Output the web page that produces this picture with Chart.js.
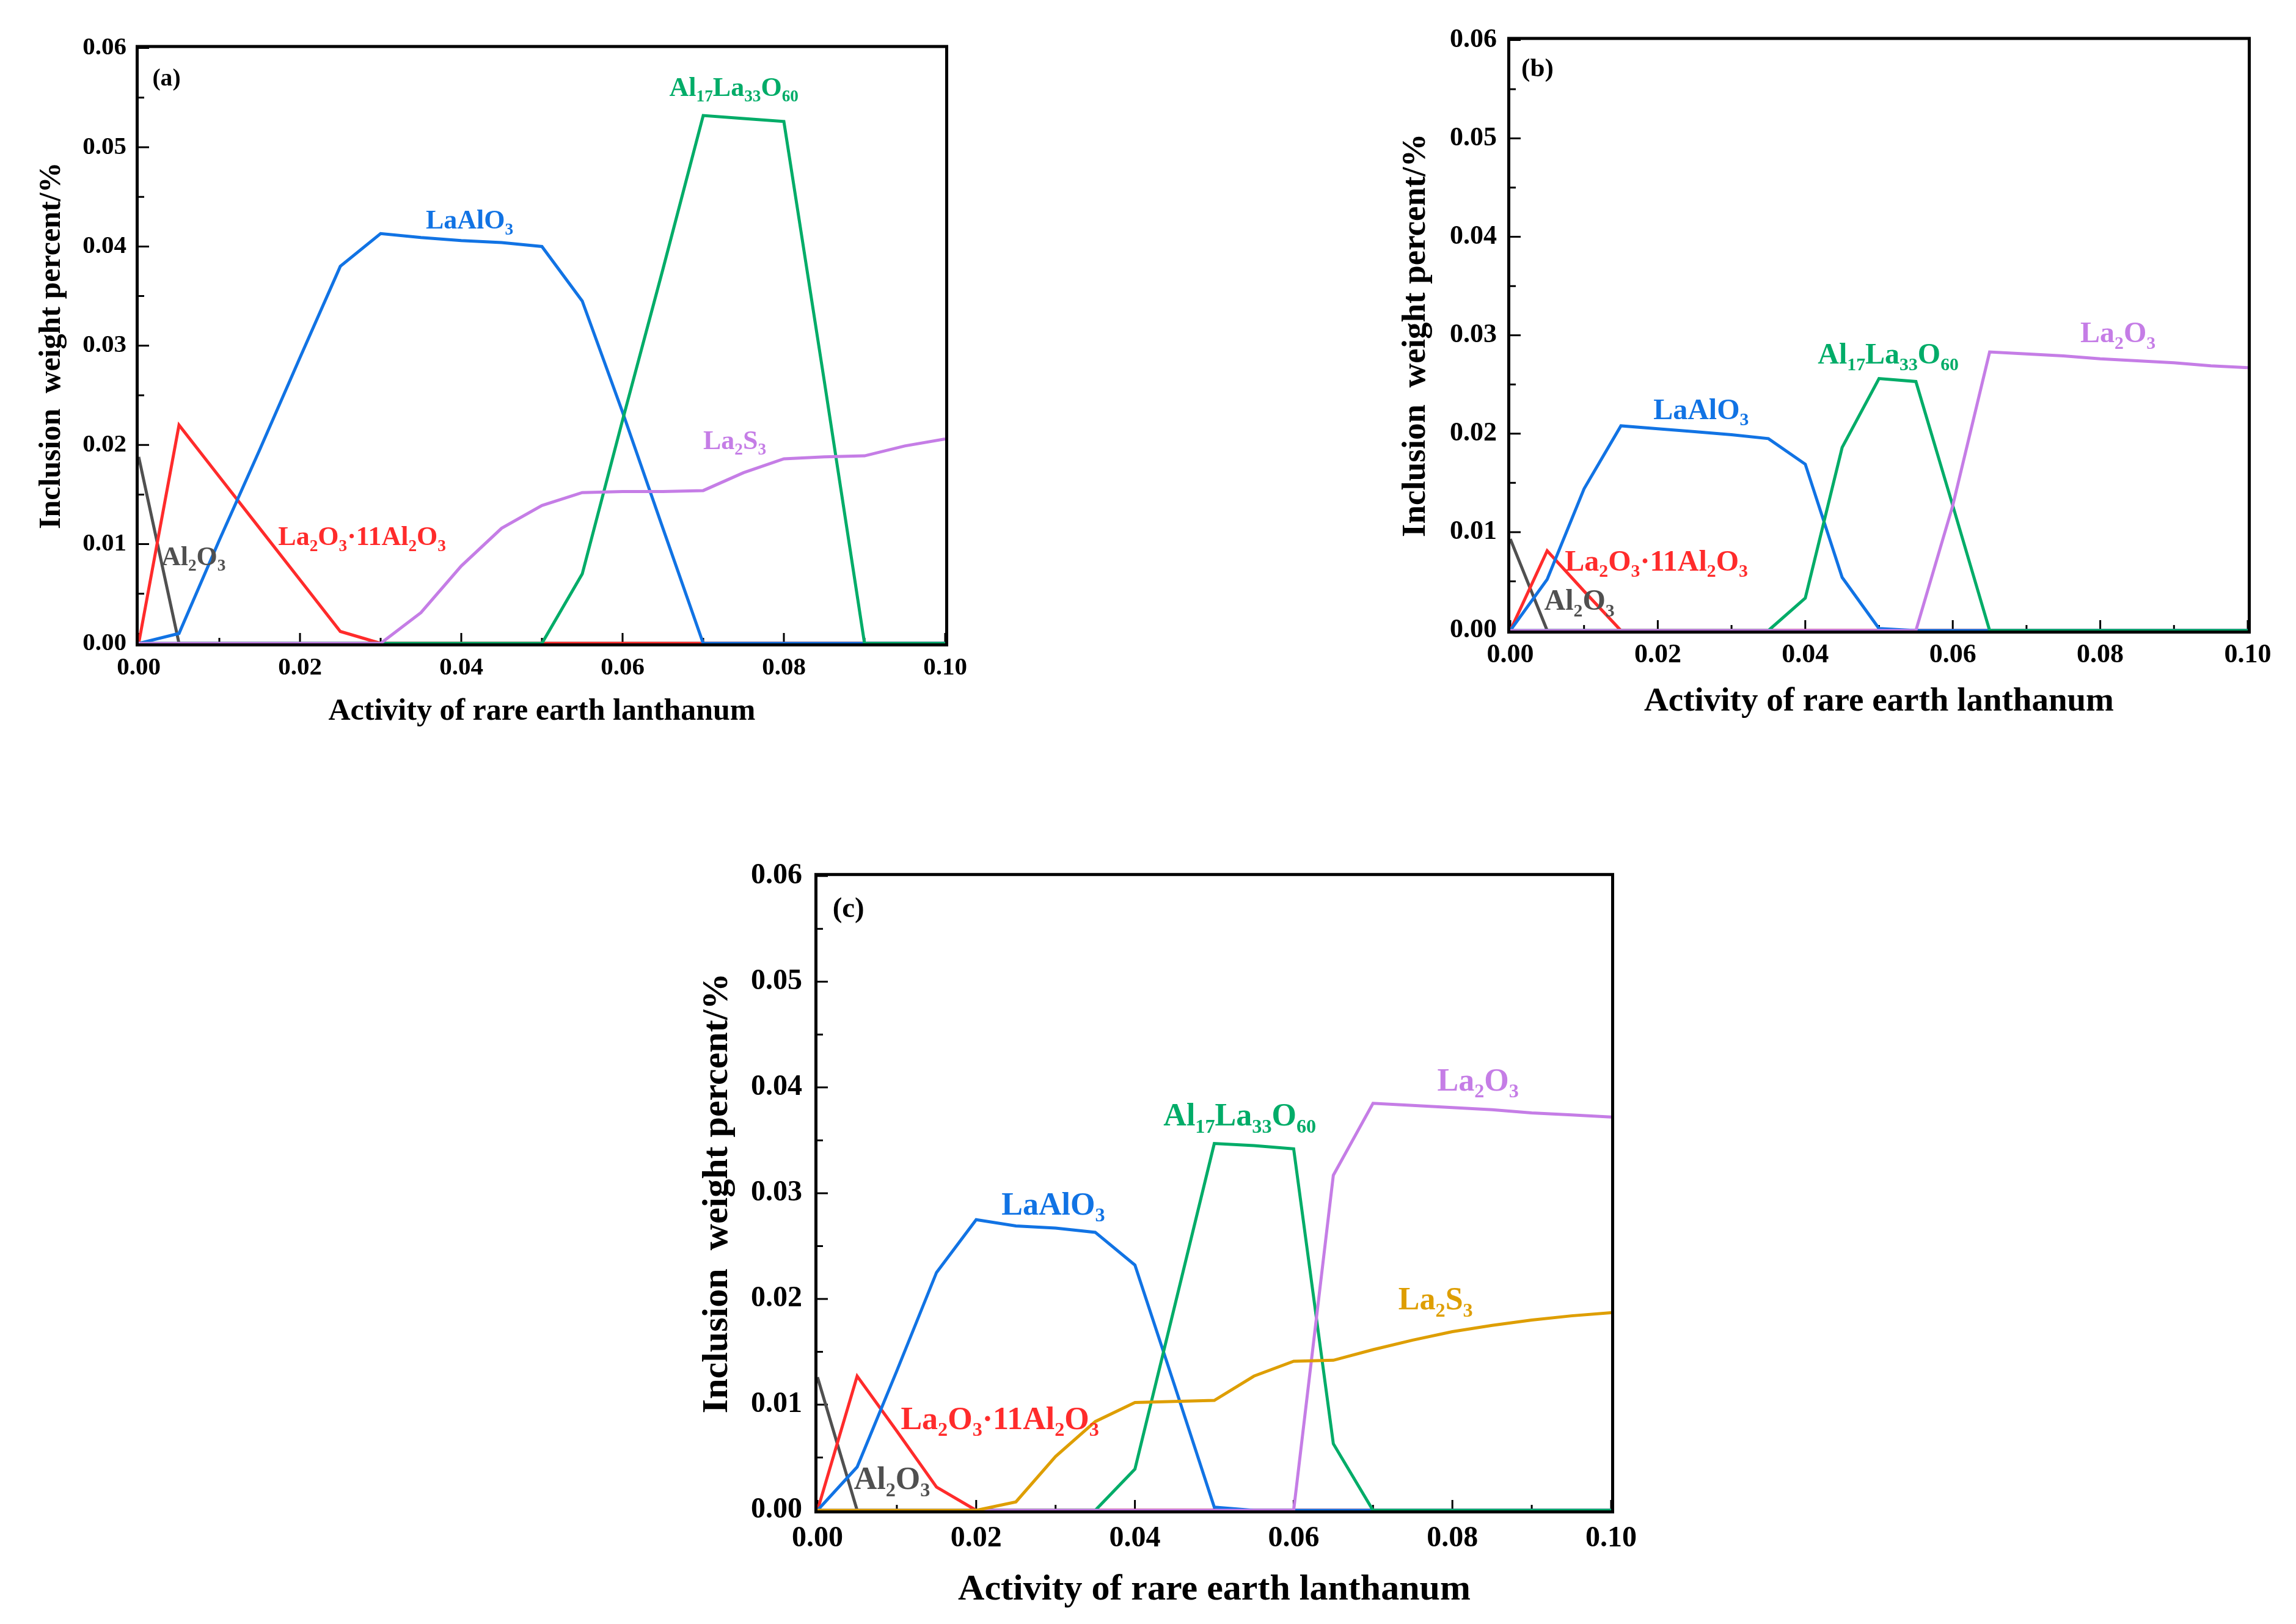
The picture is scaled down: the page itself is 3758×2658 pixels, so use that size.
<!DOCTYPE html>
<html>
<head>
<meta charset="utf-8">
<script src="https://cdn.jsdelivr.net/npm/chart.js@4.4.1/dist/chart.umd.min.js"></script>
<style>
  body { margin: 0; background: #fff; width: 3758px; height: 2658px; position: relative; overflow: hidden; }
  .painel { position: absolute; }
</style>
</head>
<body>
<canvas class="painel" id="graficoA"></canvas>
<canvas class="painel" id="graficoB"></canvas>
<canvas class="painel" id="graficoC"></canvas>

<script>
// ===== DADOS =====
// atividade do lantânio (eixo x), mesma grade nos três painéis
const atividade = [0, 0.005, 0.01, 0.015, 0.02, 0.025, 0.03, 0.035, 0.04, 0.045, 0.05,
                   0.055, 0.06, 0.065, 0.07, 0.075, 0.08, 0.085, 0.09, 0.095, 0.1];

const ticksX = [0, 0.02, 0.04, 0.06, 0.08, 0.1];
const ticksY = [0, 0.01, 0.02, 0.03, 0.04, 0.05, 0.06];

// painel (a)
const a_Al2O3   = [0.0188, 0, 0, 0, 0, 0, 0, 0, 0, 0, 0, 0, 0, 0, 0, 0, 0, 0, 0, 0, 0];
const a_La2O3Al = [0, 0.022, 0.0168, 0.0116, 0.0064, 0.0012, 0, 0, 0, 0, 0, 0, 0, 0, 0, 0, 0, 0, 0, 0, 0];
const a_LaAlO3  = [0, 0.001, 0.0104, 0.0195, 0.0288, 0.038, 0.0413, 0.0409, 0.0406, 0.0404, 0.040,
                   0.0345, 0.0233, 0.0116, 0, 0, 0, 0, 0, 0, 0];
const a_Al17    = [0, 0, 0, 0, 0, 0, 0, 0, 0, 0, 0,
                   0.007, 0.0225, 0.0377, 0.0532, 0.0529, 0.0526, 0.0265, 0, 0, 0];
const a_La2S3   = [0, 0, 0, 0, 0, 0, 0, 0.0031, 0.0078, 0.0116, 0.0139,
                   0.0152, 0.0153, 0.0153, 0.0154, 0.0172, 0.0186, 0.0188, 0.0189, 0.0199, 0.0206];

// painel (b)
const b_Al2O3   = [0.0093, 0, 0, 0, 0, 0, 0, 0, 0, 0, 0, 0, 0, 0, 0, 0, 0, 0, 0, 0, 0];
const b_La2O3Al = [0, 0.0081, 0.004, 0, 0, 0, 0, 0, 0, 0, 0, 0, 0, 0, 0, 0, 0, 0, 0, 0, 0];
const b_LaAlO3  = [0, 0.0052, 0.0144, 0.0208, 0.0205, 0.0202, 0.0199, 0.0195, 0.0169, 0.0054, 0.0002,
                   0, 0, 0, 0, 0, 0, 0, 0, 0, 0];
const b_Al17    = [0, 0, 0, 0, 0, 0, 0, 0, 0.0033, 0.0186, 0.0256,
                   0.0253, 0.0127, 0, 0, 0, 0, 0, 0, 0, 0];
const b_La2O3   = [0, 0, 0, 0, 0, 0, 0, 0, 0, 0, 0,
                   0, 0.0127, 0.0283, 0.0281, 0.0279, 0.0276, 0.0274, 0.0272, 0.0269, 0.0267];

// painel (c)
const c_Al2O3   = [0.0126, 0, 0, 0, 0, 0, 0, 0, 0, 0, 0, 0, 0, 0, 0, 0, 0, 0, 0, 0, 0];
const c_La2O3Al = [0, 0.0127, 0.0075, 0.0022, 0, 0, 0, 0, 0, 0, 0, 0, 0, 0, 0, 0, 0, 0, 0, 0, 0];
const c_LaAlO3  = [0, 0.0041, 0.0132, 0.0225, 0.0275, 0.0269, 0.0267, 0.0263, 0.0232, 0.0118, 0.0003,
                   0, 0, 0, 0, 0, 0, 0, 0, 0, 0];
const c_Al17    = [0, 0, 0, 0, 0, 0, 0, 0, 0.0039, 0.0193, 0.0347,
                   0.0345, 0.0342, 0.0063, 0, 0, 0, 0, 0, 0, 0];
const c_La2O3   = [0, 0, 0, 0, 0, 0, 0, 0, 0, 0, 0,
                   0, 0, 0.0317, 0.0385, 0.0383, 0.0381, 0.0379, 0.0376, 0.0374, 0.0372];
const c_La2S3   = [0, 0, 0, 0, 0, 0.0008, 0.0051, 0.0084, 0.0102, 0.0103, 0.0104,
                   0.0127, 0.0141, 0.0142, 0.0152, 0.0161, 0.0169, 0.0175, 0.018, 0.0184, 0.0187];


// ===== ESTILO =====
const FONTE = "'Liberation Serif', 'Times New Roman', serif";

const cores = {
  Al2O3:  '#505050',
  La2O3Al:'#FF2B2B',
  LaAlO3: '#1173E4',
  Al17:   '#00AC68',
  La2O3:  '#C57DE6',
  La2S3a: '#C57DE6',
  La2S3c: '#DE9E00'
};

// ordem de desenho: menor = por cima
const ordem = { Al2O3: 6, La2O3Al: 5, LaAlO3: 4, Al17: 3, La2O3: 2, La2S3: 1 };


// ===== PAINÉIS =====
const paineis = [
  {
    id: 'graficoA',
    area: { l: 227, t: 74, w: 1320, h: 979 },
    yw: 172, xh: 142, padX: 16, padY: 20,
    fTick: 41, fTitulo: 50, fRotulo: 44,
    letra: { txt: '(a)', x: 0.0017, y: 0.0562 },
    series: [
      { nome: 'Al2O3',   cor: cores.Al2O3,   ordem: ordem.Al2O3,   y: a_Al2O3 },
      { nome: 'La2O3Al', cor: cores.La2O3Al, ordem: ordem.La2O3Al, y: a_La2O3Al },
      { nome: 'LaAlO3',  cor: cores.LaAlO3,  ordem: ordem.LaAlO3,  y: a_LaAlO3 },
      { nome: 'Al17',    cor: cores.Al17,    ordem: ordem.Al17,    y: a_Al17 },
      { nome: 'La2S3',   cor: cores.La2S3a,  ordem: ordem.La2S3,   y: a_La2S3 }
    ],
    rotulos: [
      { txt: 'LaAlO_3',              cor: cores.LaAlO3,  x: 0.0356, y: 0.0418 },
      { txt: 'Al_17La_33O_60',       cor: cores.Al17,    x: 0.0658, y: 0.0552 },
      { txt: 'La_2S_3',              cor: cores.La2S3a,  x: 0.0700, y: 0.0196 },
      { txt: 'La_2O_3·11Al_2O_3',    cor: cores.La2O3Al, x: 0.0173, y: 0.0099 },
      { txt: 'Al_2O_3',              cor: cores.Al2O3,   x: 0.0028, y: 0.0079 }
    ]
  },
  {
    id: 'graficoB',
    area: { l: 2472, t: 57, w: 1207, h: 975 },
    yw: 187, xh: 150, padX: 14, padY: 22,
    fTick: 44, fTitulo: 55, fRotulo: 48,
    letra: { txt: '(b)', x: 0.0015, y: 0.0563 },
    series: [
      { nome: 'Al2O3',   cor: cores.Al2O3,   ordem: ordem.Al2O3,   y: b_Al2O3 },
      { nome: 'La2O3Al', cor: cores.La2O3Al, ordem: ordem.La2O3Al, y: b_La2O3Al },
      { nome: 'LaAlO3',  cor: cores.LaAlO3,  ordem: ordem.LaAlO3,  y: b_LaAlO3 },
      { nome: 'Al17',    cor: cores.Al17,    ordem: ordem.Al17,    y: b_Al17 },
      { nome: 'La2O3',   cor: cores.La2O3,   ordem: ordem.La2O3,   y: b_La2O3 }
    ],
    rotulos: [
      { txt: 'LaAlO_3',              cor: cores.LaAlO3,  x: 0.0194, y: 0.0215 },
      { txt: 'Al_17La_33O_60',       cor: cores.Al17,    x: 0.0417, y: 0.0271 },
      { txt: 'La_2O_3',              cor: cores.La2O3,   x: 0.0773, y: 0.0293 },
      { txt: 'La_2O_3·11Al_2O_3',    cor: cores.La2O3Al, x: 0.0074, y: 0.0061 },
      { txt: 'Al_2O_3',              cor: cores.Al2O3,   x: 0.0046, y: 0.0021 }
    ]
  },
  {
    id: 'graficoC',
    area: { l: 1338, t: 1420, w: 1299, h: 1052 },
    yw: 200, xh: 166, padX: 18, padY: 25,
    fTick: 48, fTitulo: 60, fRotulo: 52,
    letra: { txt: '(c)', x: 0.0019, y: 0.0561 },
    series: [
      { nome: 'Al2O3',   cor: cores.Al2O3,   ordem: ordem.Al2O3,   y: c_Al2O3 },
      { nome: 'La2O3Al', cor: cores.La2O3Al, ordem: ordem.La2O3Al, y: c_La2O3Al },
      { nome: 'LaAlO3',  cor: cores.LaAlO3,  ordem: ordem.LaAlO3,  y: c_LaAlO3 },
      { nome: 'Al17',    cor: cores.Al17,    ordem: ordem.Al17,    y: c_Al17 },
      { nome: 'La2O3',   cor: cores.La2O3,   ordem: ordem.La2O3,   y: c_La2O3 },
      { nome: 'La2S3',   cor: cores.La2S3c,  ordem: ordem.La2S3,   y: c_La2S3 }
    ],
    rotulos: [
      { txt: 'LaAlO_3',              cor: cores.LaAlO3,  x: 0.0232, y: 0.0280 },
      { txt: 'Al_17La_33O_60',       cor: cores.Al17,    x: 0.0436, y: 0.0364 },
      { txt: 'La_2O_3',              cor: cores.La2O3,   x: 0.0781, y: 0.0397 },
      { txt: 'La_2S_3',              cor: cores.La2S3c,  x: 0.0732, y: 0.0190 },
      { txt: 'La_2O_3·11Al_2O_3',    cor: cores.La2O3Al, x: 0.0105, y: 0.0077 },
      { txt: 'Al_2O_3',              cor: cores.Al2O3,   x: 0.0046, y: 0.0020 }
    ]
  }
];


// ===== TEXTO COM SUBSCRITO =====
function desenharRico(ctx, txt, x, y, tam, cor) {
  const partes = txt.split(/_(\d+)/);  // ímpares = subscrito
  ctx.save();
  ctx.fillStyle = cor;
  ctx.textBaseline = 'alphabetic';
  ctx.textAlign = 'left';
  let cx = x;
  partes.forEach((p, i) => {
    if (!p) return;
    const sub = i % 2 === 1;
    const t = sub ? tam * 0.62 : tam;
    ctx.font = `bold ${t}px ${FONTE}`;
    ctx.fillText(p, cx, y + (sub ? tam * 0.22 : 0));
    cx += ctx.measureText(p).width;
  });
  ctx.restore();
}


// ===== PLUGIN: moldura, ticks internos e rótulos =====
const pluginMoldura = {
  id: 'moldura',
  beforeDatasetsDraw(chart) {
    const { ctx, chartArea: a } = chart;
    const lw = 5;
    ctx.save();
    ctx.strokeStyle = '#000';
    ctx.lineWidth = lw;
    ctx.strokeRect(a.left - lw / 2, a.top - lw / 2, a.right - a.left + lw, a.bottom - a.top + lw);

    // ticks para dentro
    const sx = chart.scales.x, sy = chart.scales.y;
    ctx.lineWidth = 3;
    const maior = 17, menor = 9;
    ctx.beginPath();
    sx.ticks.forEach((t, i) => {
      const px = sx.getPixelForValue(t.value);
      ctx.moveTo(px, a.bottom); ctx.lineTo(px, a.bottom - maior);
      if (i < sx.ticks.length - 1) {
        const pm = sx.getPixelForValue((t.value + sx.ticks[i + 1].value) / 2);
        ctx.moveTo(pm, a.bottom); ctx.lineTo(pm, a.bottom - menor);
      }
    });
    sy.ticks.forEach((t, i) => {
      const py = sy.getPixelForValue(t.value);
      ctx.moveTo(a.left, py); ctx.lineTo(a.left + maior, py);
      if (i < sy.ticks.length - 1) {
        const pm = sy.getPixelForValue((t.value + sy.ticks[i + 1].value) / 2);
        ctx.moveTo(a.left, pm); ctx.lineTo(a.left + menor, pm);
      }
    });
    ctx.stroke();
    ctx.restore();
  },
  afterDatasetsDraw(chart) {
    const cfg = chart.options.plugins.moldura;
    const { ctx } = chart;
    const sx = chart.scales.x, sy = chart.scales.y;
    cfg.rotulos.forEach(r => {
      desenharRico(ctx, r.txt, sx.getPixelForValue(r.x), sy.getPixelForValue(r.y), cfg.tam, r.cor);
    });
    const l = cfg.letra;
    desenharRico(ctx, l.txt, sx.getPixelForValue(l.x), sy.getPixelForValue(l.y), cfg.tam * 0.9, '#000');
  }
};


// ===== MONTAR =====
function montarPainel(p) {
  const padT = 40, padR = 60;
  const cv = document.getElementById(p.id);
  const W = p.yw + p.area.w + padR;
  const H = padT + p.area.h + p.xh;
  cv.width = W;
  cv.height = H;
  cv.style.left = (p.area.l - p.yw) + 'px';
  cv.style.top  = (p.area.t - padT) + 'px';
  cv.style.width = W + 'px';
  cv.style.height = H + 'px';

  const datasets = p.series.map(s => ({
    label: s.nome,
    data: atividade.map((x, i) => ({ x, y: s.y[i] })),
    borderColor: s.cor,
    borderWidth: 5,
    pointRadius: 0,
    tension: 0,
    fill: false,
    order: s.ordem
  }));

  const fTick = { family: FONTE, size: p.fTick, weight: 'bold' };
  const fTit  = { family: FONTE, size: p.fTitulo, weight: 'bold' };

  return new Chart(cv.getContext('2d'), {
    type: 'line',
    data: { datasets },
    options: {
      responsive: false,
      animation: false,
      devicePixelRatio: 1,
      layout: { padding: { top: padT, right: padR, left: 0, bottom: 0 } },
      plugins: {
        legend: { display: false },
        tooltip: { enabled: false },
        moldura: { rotulos: p.rotulos, letra: p.letra, tam: p.fRotulo }
      },
      scales: {
        x: {
          type: 'linear', min: 0, max: 0.1,
          grid: { display: false, drawTicks: false },
          border: { display: false },
          afterBuildTicks: s => { s.ticks = ticksX.map(v => ({ value: v })); },
          afterFit: s => { s.height = p.xh; },
          ticks: {
            color: '#000', font: fTick, padding: p.padX, maxRotation: 0, autoSkip: false,
            callback: v => Number(v).toFixed(2)
          },
          title: {
            display: true, text: 'Activity of rare earth lanthanum',
            color: '#000', font: fTit, padding: 0
          }
        },
        y: {
          type: 'linear', min: 0, max: 0.06,
          grid: { display: false, drawTicks: false },
          border: { display: false },
          afterBuildTicks: s => { s.ticks = ticksY.map(v => ({ value: v })); },
          afterFit: s => { s.width = p.yw; },
          ticks: {
            color: '#000', font: fTick, padding: p.padY, autoSkip: false,
            callback: v => Number(v).toFixed(2)
          },
          title: {
            display: true, text: 'Inclusion  weight percent/%',
            color: '#000', font: fTit, padding: 0
          }
        }
      }
    },
    plugins: [pluginMoldura]
  });
}

paineis.forEach(montarPainel);
</script>
</body>
</html>
